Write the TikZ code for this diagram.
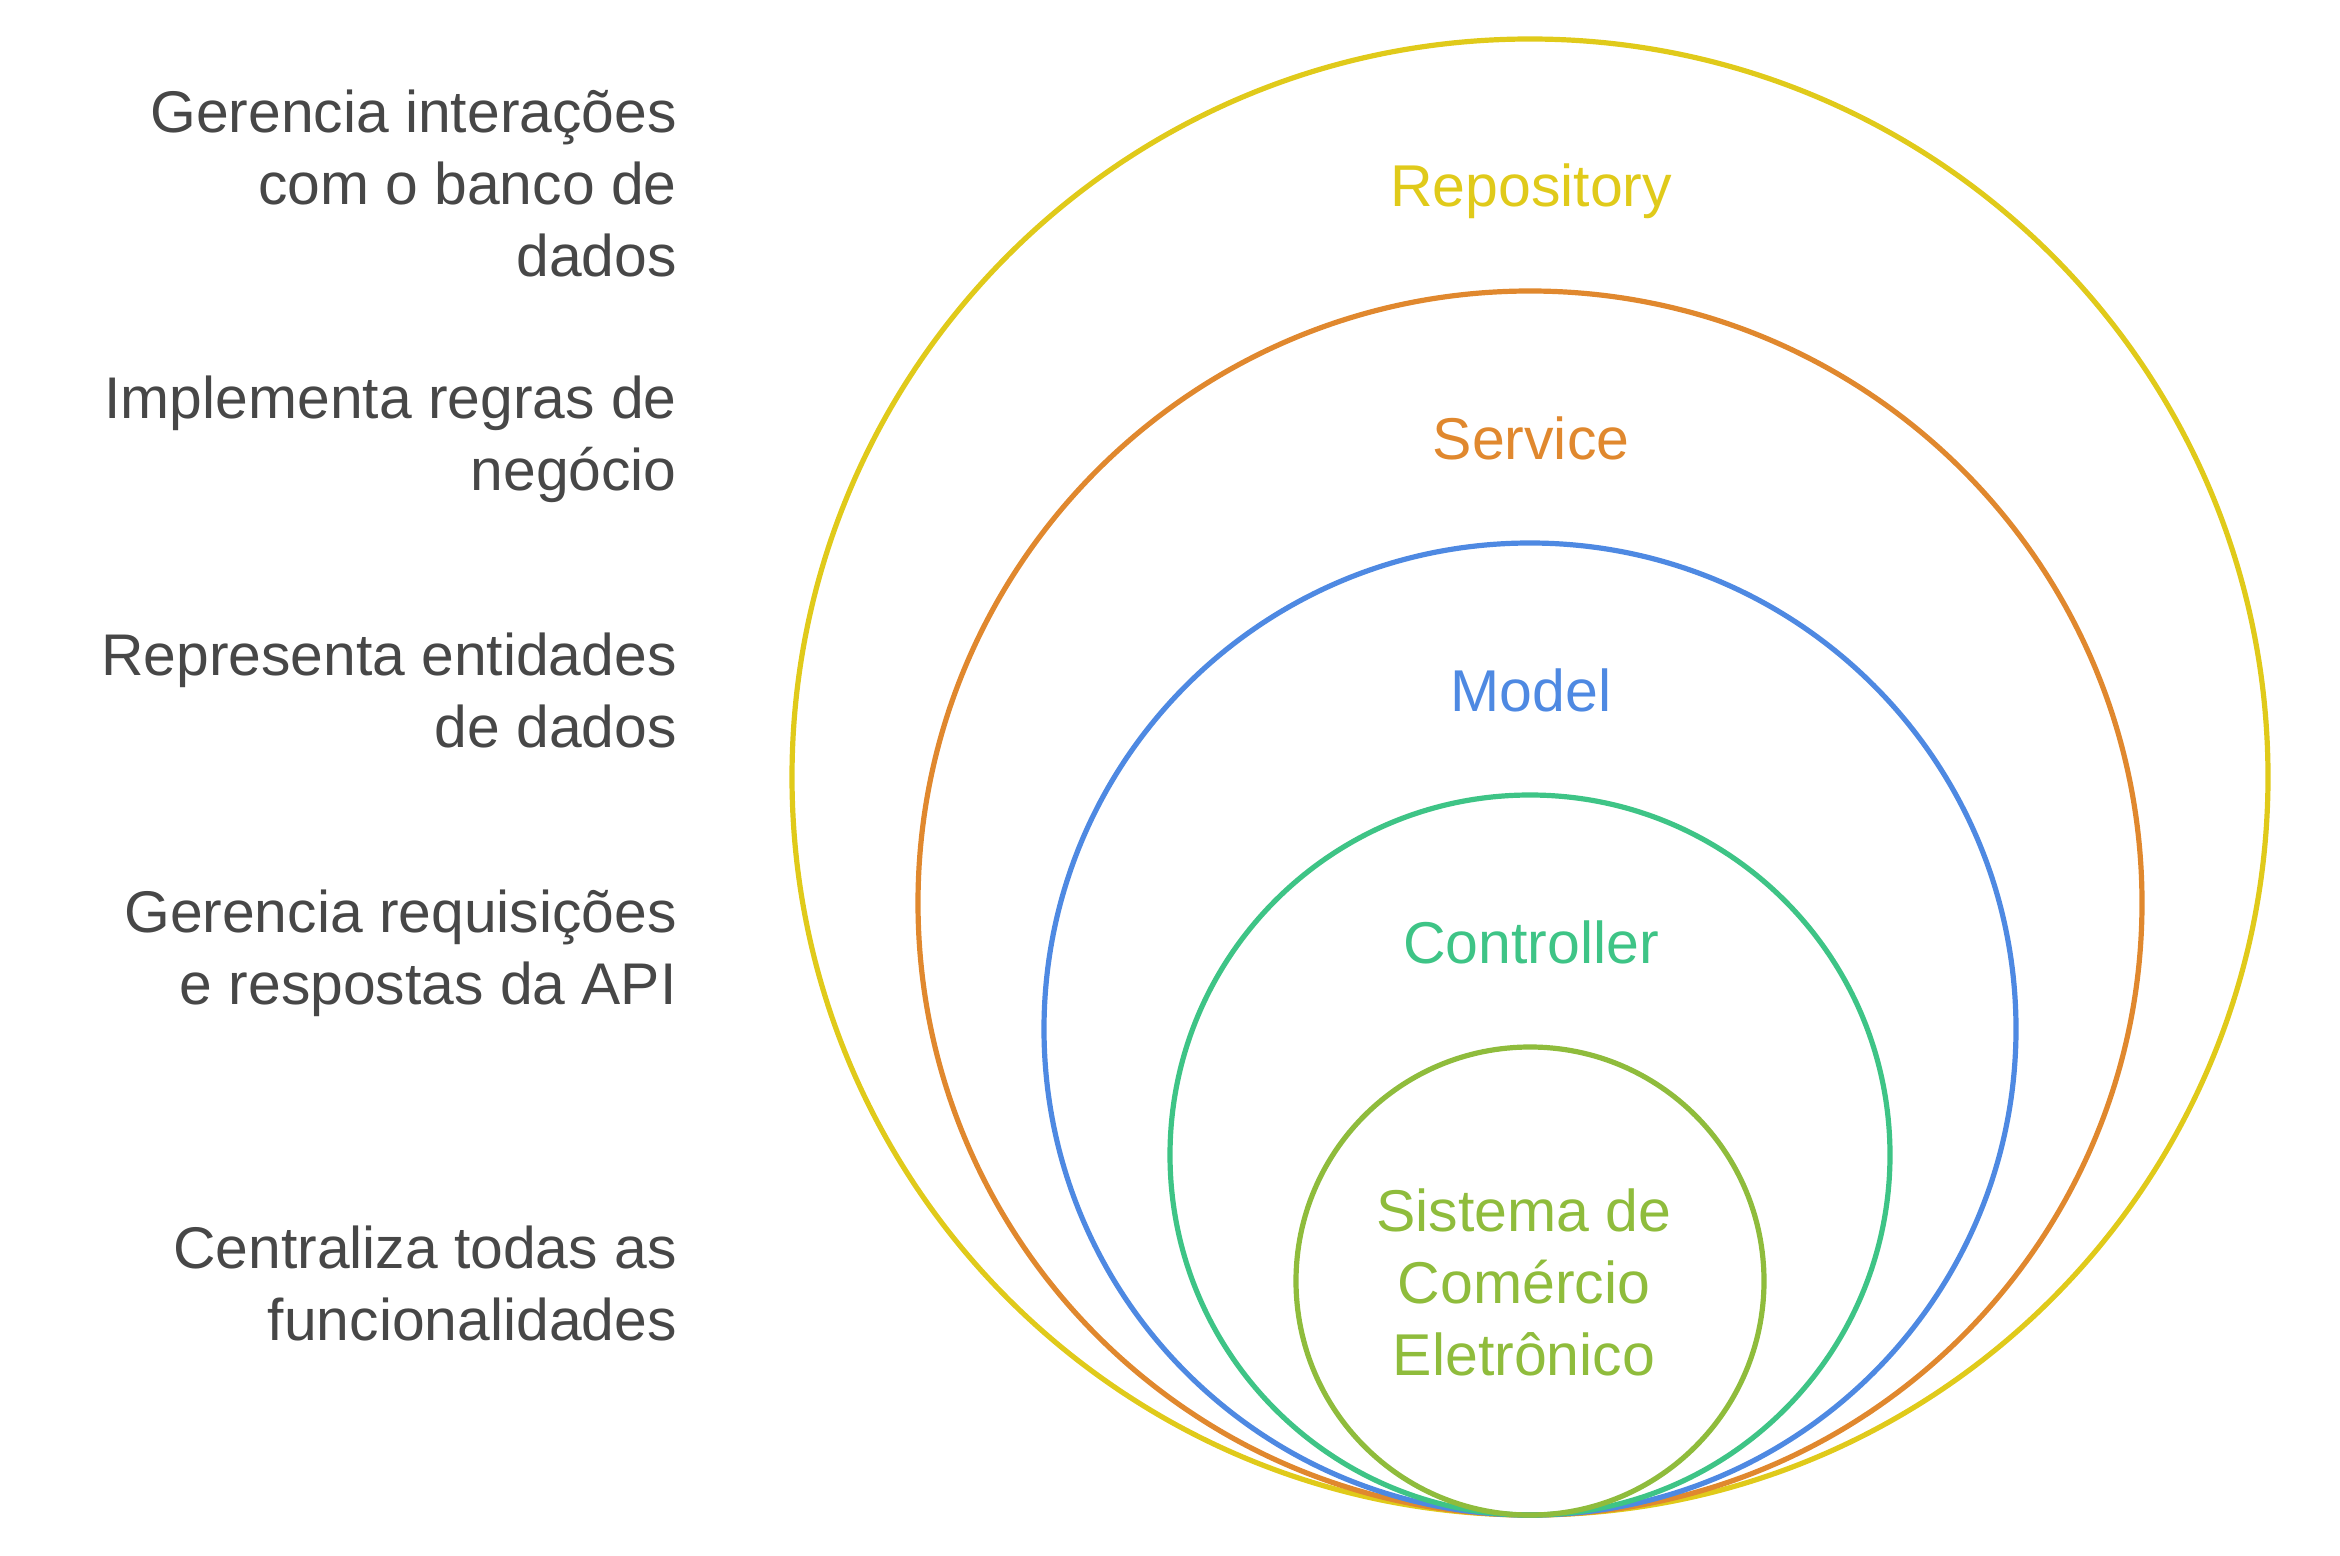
\documentclass[tikz,border=0pt]{standalone}
\usepackage{fontspec}
\setmainfont{Liberation Sans}
\definecolor{cyel}{HTML}{E0CA1A}
\definecolor{cora}{HTML}{E0882E}
\definecolor{cblu}{HTML}{4E89E2}
\definecolor{cgrn}{HTML}{3EC486}
\definecolor{clim}{HTML}{8FBC3C}
\definecolor{ctxt}{HTML}{474747}
\tikzset{
  ring/.style={circle, draw=#1, line width=2.6pt, inner sep=0pt, outer sep=0pt},
  ringlabel/.style={text=#1, font=\fontsize{29.5pt}{36pt}\selectfont, inner sep=0pt, anchor=base, align=center},
  desc/.style={text=ctxt, font=\fontsize{29.4pt}{36pt}\selectfont, inner sep=0pt, anchor=base east, align=right}
}
\begin{document}
\begin{tikzpicture}[x=0.5pt,y=-0.5pt]
\useasboundingbox (0,0) rectangle (2340,1556);
% rings, all tangent at the bottom point (1530,1515)
\node[ring=cyel, minimum size=738pt] (repo) at (1530,777) {};
\node[ring=cora, minimum size=612pt] (serv) at (1530,903) {};
\node[ring=cblu, minimum size=486pt] (model) at (1530,1029) {};
\node[ring=cgrn, minimum size=360pt] (ctrl) at (1530,1155) {};
\node[ring=clim, minimum size=234pt] (sys) at (1530,1281) {};
% ring labels (base anchor = baseline of the last line)
\node[ringlabel=cyel] (repolbl) at (1531,207) {Repository};
\node[ringlabel=cora] (servlbl) at (1531,459) {Service};
\node[ringlabel=cblu] (modellbl) at (1531,711) {Model};
\node[ringlabel=cgrn] (ctrllbl) at (1531,963) {Controller};
\node[ringlabel=clim] (syslbl) at (1524,1375) {Sistema de\\Comércio\\Eletrônico};
% descriptions
\node[desc] (d1) at (677,277) {Gerencia interações\\com o banco de\\dados};
\node[desc] (d2) at (677,491) {Implementa regras de\\negócio};
\node[desc] (d3) at (677,747) {Representa entidades\\de dados};
\node[desc] (d4) at (677,1004) {Gerencia requisições\\e respostas da API};
\node[desc] (d5) at (677,1340) {Centraliza todas as\\funcionalidades};
\end{tikzpicture}
\end{document}
